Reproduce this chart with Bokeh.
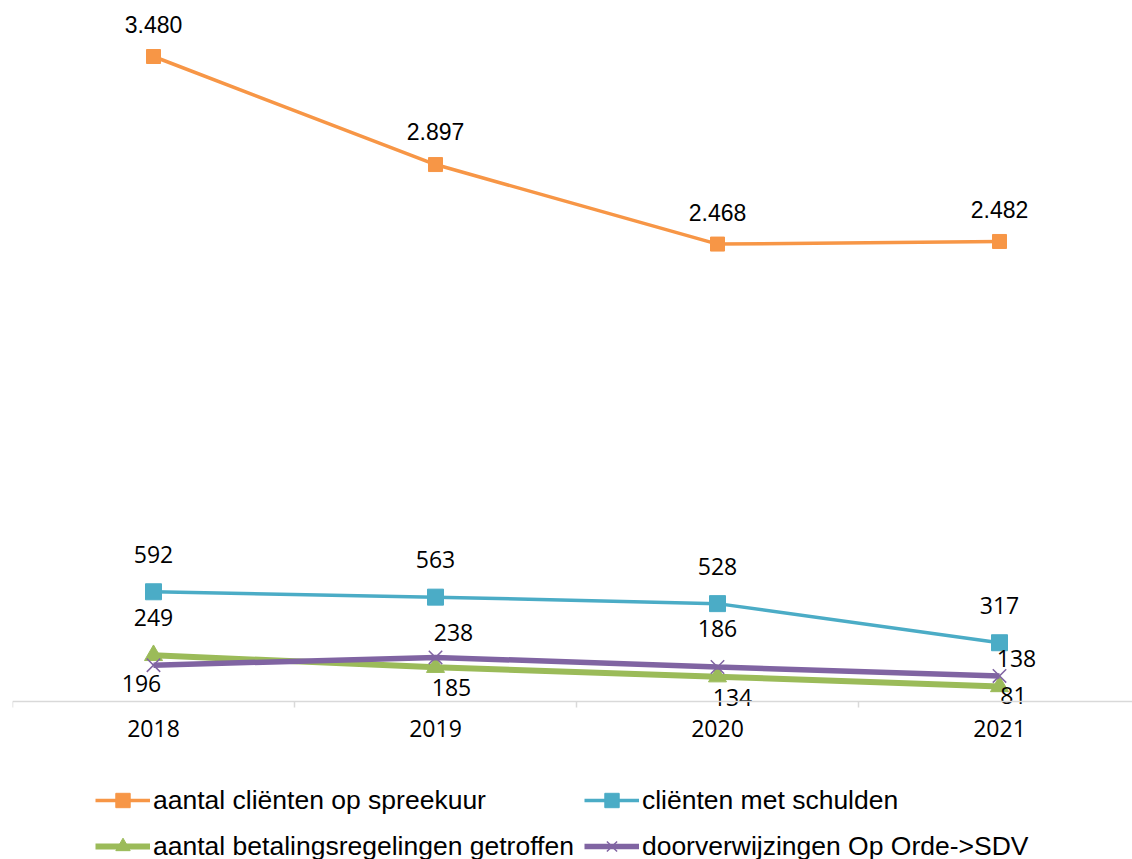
from bokeh.plotting import figure
from bokeh.models import Range1d, FixedTicker, ColumnDataSource, Legend, LegendItem
from bokeh.core.properties import value
from bokeh.embed import file_html
from bokeh.resources import INLINE

# ---- data ----
years = ["2018", "2019", "2020", "2021"]
spreekuur = [3480, 2897, 2468, 2482]
schulden = [592, 563, 528, 317]
regelingen = [249, 185, 134, 81]
doorverwijzingen = [196, 238, 186, 138]
names = [
    "aantal cliënten op spreekuur",
    "cliënten met schulden",
    "aantal betalingsregelingen getroffen",
    "doorverwijzingen Op Orde->SDV",
]

# ---- styling (label placement in screen px) ----
series_style = [
    dict(color="#F79646", lw=3.5, marker="square", size=14, mlw=1, font="Liberation Sans",
         xo=[0, 0, 0, 0], yo=[-32, -33, -32, -32]),
    dict(color="#4BACC6", lw=3.5, marker="square", size=16, mlw=1, font="Open Sans",
         xo=[0, 0, 0, 0], yo=[-37, -38, -37, -37]),
    dict(color="#9BBB59", lw=6, marker="triangle", size=18, mlw=1, font="Open Sans",
         xo=[0, 16, 15, 14], yo=[-38, 20, 21, 9]),
    dict(color="#8064A2", lw=5.5, marker="x", size=19, mlw=1.5, font="Open Sans",
         xo=[-12, 18, 0, 17], yo=[18, -25, -39, -17]),
]

xs = list(range(len(years)))
px_per_unit = 645 / 3480.0
W, H = 1132, 859
frame_left = 12
axis_y = 701          # screen row of value 0

p = figure(width=W, height=H, output_backend="svg", toolbar_location=None,
           x_range=Range1d(-0.5, (W - 153) / 282.0),
           y_range=Range1d(-(H - axis_y) / px_per_unit, axis_y / px_per_unit),
           y_axis_location=None, min_border_left=frame_left, min_border_right=0,
           min_border_top=0, min_border_bottom=0)
p.outline_line_color = None
p.xgrid.visible = False
p.ygrid.visible = False
p.background_fill_color = "white"
p.border_fill_color = "white"

ax = p.xaxis[0]
ax.fixed_location = 0
ax.ticker = FixedTicker(ticks=xs, minor_ticks=[i - 0.5 for i in range(len(years) + 1)])
ax.major_label_overrides = {i: y for i, y in enumerate(years)}
ax.axis_line_color = "#D9D9D9"
ax.axis_line_width = 1.5
ax.major_tick_out = 0
ax.major_tick_in = 0
ax.minor_tick_out = 6
ax.minor_tick_in = 0
ax.minor_tick_line_color = "#D9D9D9"
ax.minor_tick_line_width = 1.5
ax.major_label_standoff = 12
ax.major_label_text_font = "Open Sans"
ax.major_label_text_font_size = "23px"
ax.major_label_text_color = "#000000"

all_series = [spreekuur, schulden, regelingen, doorverwijzingen]
items = []
for name, vals, st in zip(names, all_series, series_style):
    labels = [f"{v:,}".replace(",", ".") for v in vals]
    src = ColumnDataSource(dict(x=xs, y=vals, lab=labels, xo=st["xo"], yo=st["yo"]))
    r_line = p.line("x", "y", source=src, line_color=st["color"], line_width=st["lw"])
    if st["marker"] == "x":
        r_mark = p.scatter("x", "y", source=src, marker="x", size=st["size"],
                           line_color=st["color"], line_width=st["mlw"])
    else:
        r_mark = p.scatter("x", "y", source=src, marker=st["marker"], size=st["size"],
                           fill_color=st["color"], line_color=st["color"], line_width=1)
    p.text("x", "y", text="lab", source=src, x_offset="xo", y_offset="yo",
           text_align="center", text_baseline="alphabetic",
           text_font=value(st["font"]), text_font_size="23px", text_color="#000000")
    items.append(LegendItem(label=name, renderers=[r_line, r_mark]))

legend = Legend(items=items, location=(95 - frame_left, -5), orientation="horizontal", ncols=2,
                glyph_width=55, glyph_height=36, label_height=36, spacing=10,
                label_standoff=3, padding=0, margin=0,
                label_text_font="Liberation Sans", label_text_font_size="26.5px",
                label_text_color="#000000", label_text_baseline="middle",
                border_line_color=None, background_fill_alpha=0)
p.add_layout(legend, "center")

open("out.html", "w").write(file_html(p, INLINE))
